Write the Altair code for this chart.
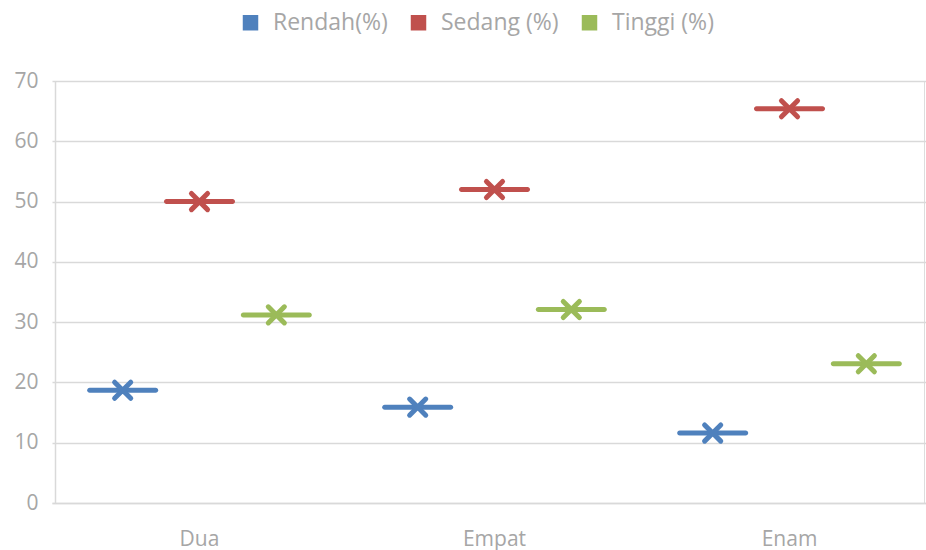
import altair as alt
import pandas as pd

categories = ["Dua", "Empat", "Enam"]
series = ["Rendah(%)", "Sedang (%)", "Tinggi (%)"]
rendah = [18.7, 15.9, 11.6]
sedang = [50.0, 52.0, 65.4]
tinggi = [31.2, 32.1, 23.1]
colors = ["#4f81bd", "#c0504d", "#9bbb59"]
y_ticks = [0, 10, 20, 30, 40, 50, 60, 70]

rows = []
for s, vals in zip(series, [rendah, sedang, tinggi]):
    for c, v in zip(categories, vals):
        rows.append({"kategori": c, "seri": s, "nilai": v})
df = pd.DataFrame(rows)

FONT = "Open Sans"
TXT = "#a6a6a6"
GRID = "#d9d9d9"

x_enc = alt.X("kategori:N", sort=categories, title=None,
              scale=alt.Scale(paddingInner=0, paddingOuter=0, range=[-3, 882]),
              axis=alt.Axis(labelAngle=0, ticks=False, domainColor=GRID, domainWidth=1.5,
                            labelPadding=25, labelFontSize=21, labelColor=TXT,
                            labelFont=FONT))
xoff = alt.XOffset("seri:N", sort=series,
                   scale=alt.Scale(paddingOuter=0.42, paddingInner=0))
y_enc = alt.Y("nilai:Q", title=None,
              scale=alt.Scale(domain=[0, 70], nice=False),
              axis=alt.Axis(values=y_ticks, ticks=False, domainColor=GRID, domainWidth=1.5,
                            gridColor=GRID, gridWidth=1.5, labelPadding=17,
                            labelFontSize=21, labelColor=TXT, labelFont=FONT))
color_scale = alt.Scale(domain=series, range=colors)

ticks = alt.Chart(df).mark_tick(size=71, thickness=5, cornerRadius=2.5, opacity=1).encode(
    x=x_enc, xOffset=xoff, y=y_enc,
    color=alt.Color("seri:N", sort=series, scale=color_scale,
                    legend=alt.Legend(title=None, orient="none", direction="horizontal",
                                      legendX=184, legendY=-70,
                                      symbolType="square", symbolSize=240,
                                      symbolStrokeWidth=0, labelFontSize=23,
                                      labelColor=TXT, labelFont=FONT,
                                      columnPadding=19, symbolOffset=0,
                                      labelOffset=11)),
)

marks = alt.Chart(df).mark_point(shape="M-1,-1L1,1M-1,1L1,-1", filled=False,
                                 strokeWidth=5, size=260, strokeCap="round",
                                 opacity=1).encode(
    x=x_enc, xOffset=xoff, y=y_enc,
    color=alt.Color("seri:N", sort=series, scale=color_scale, legend=None),
)

chart = (ticks + marks).properties(
    width=869, height=422,
    autosize=alt.AutoSizeParams(type="none"),
    padding={"left": 55, "top": 81, "right": 2, "bottom": 47},
).configure_view(stroke=None).configure(background="white")

chart.save("out.html", embed_options={"renderer": "svg", "actions": False})
